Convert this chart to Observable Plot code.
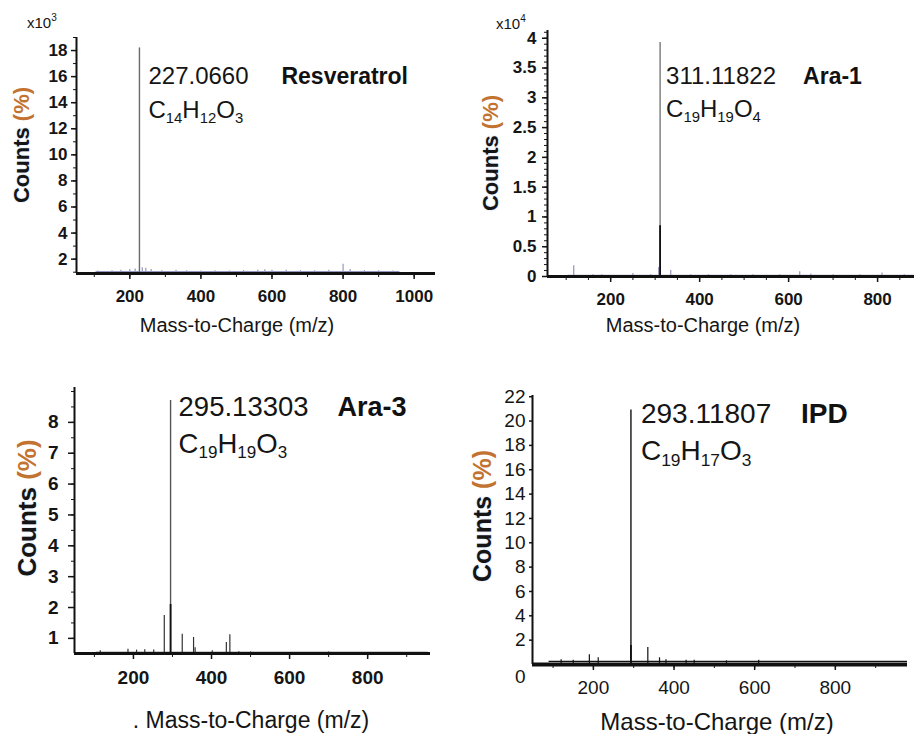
<!DOCTYPE html>
<html><head><meta charset="utf-8">
<script src="https://cdn.jsdelivr.net/npm/d3@7"></script>
<script src="https://cdn.jsdelivr.net/npm/@observablehq/plot@0.6"></script>
<style>
body{margin:0;background:#fff;}
#root{position:relative;width:914px;height:734px;overflow:hidden;font-family:"Liberation Sans",Arimo,Arial,sans-serif;background:#fff;}
#root svg{position:absolute;}
.ylab{position:absolute;transform:translate(-50%,-50%) rotate(-90deg);white-space:nowrap;font-weight:bold;color:#151515;text-shadow:0 0 2px #b9cdf0;}
.ylab span{color:#c27331;text-shadow:none;}
.xlab{position:absolute;transform:translate(-50%,-50%);white-space:nowrap;color:#151515;}
.exp{position:absolute;white-space:nowrap;color:#151515;font-size:15px;}
.exp sup{font-size:10px;vertical-align:7px;}
</style></head>
<body><div id="root"></div>
<script>
const FONT = '"Liberation Sans", Arimo, Arial, sans-serif';

// ---------- data ----------
// Panel 1: Resveratrol (counts x10^3)
const resvPeakMz = 227.0660, resvPeakCounts = 18.2;
const resvMz = [110,150,175,200,215,235,245,260,290,330,360,400,440,480,520,560,580,600,640,680,720,760,800,820,860,900,940];
const resvCounts = [1.1,1.12,1.15,1.2,1.25,1.35,1.3,1.2,1.12,1.15,1.12,1.1,1.12,1.1,1.12,1.15,1.18,1.15,1.15,1.12,1.12,1.15,1.6,1.2,1.12,1.12,1.1];
const resvText = ["227.0660", "C\u2081\u2084H\u2081\u2082O\u2083", "Resveratrol"];
const resvXTicks = [200,400,600,800,1000];
const resvYTicks = [2,4,6,8,10,12,14,16,18];

// Panel 2: Ara-1 (counts x10^4)
const ara1PeakMz = 311.11822, ara1PeakCounts = 3.93, ara1Inner = 0.85;
const ara1Mz = [117,160,180,250,290,308,335,380,420,470,520,580,625,650,700,760,810,860];
const ara1Counts = [0.18,0.03,0.03,0.05,0.03,0.15,0.1,0.03,0.03,0.03,0.03,0.03,0.08,0.04,0.03,0.03,0.06,0.03];
const ara1Text = ["311.11822", "C\u2081\u2089H\u2081\u2089O\u2084", "Ara-1"];
const ara1XTicks = [200,400,600,800];
const ara1YTicks = [0,0.5,1,1.5,2,2.5,3,3.5,4];

// Panel 3: Ara-3
const ara3PeakMz = 295.13303, ara3PeakCounts = 8.71, ara3Inner = 2.1;
const ara3Mz = [115,186,208,229,252,279,325,354,358,402,438,447,470,500,700];
const ara3Counts = [0.6,0.65,0.62,0.63,0.62,1.74,1.13,1.03,0.7,0.6,0.87,1.12,0.57,0.56,0.56];
const ara3Text = ["295.13303", "C\u2081\u2089H\u2081\u2089O\u2083", "Ara-3"];
const ara3XTicks = [200,400,600,800];
const ara3YTicks = [1,2,3,4,5,6,7,8];

// Panel 4: IPD
const ipdPeakMz = 293.11807, ipdPeakCounts = 20.9, ipdInner = 1.56;
const ipdMz = [120,150,190,212,335,364,380,430,450,530,610];
const ipdCounts = [0.4,0.35,0.8,0.55,1.4,0.55,0.4,0.35,0.35,0.3,0.35];
const ipdText = ["293.11807", "C\u2081\u2089H\u2081\u2087O\u2083", "IPD"];
const ipdXTicks = [200,400,600,800];
const ipdYTicks = [2,4,6,8,10,12,14,16,18,20,22];

function range(a, b, s) { const r = []; for (let v = a; v <= b + 1e-9; v += s) r.push(+v.toFixed(3)); return r; }
const fmt = d => String(d);

const panels = [
  {left:0, top:0, w:460, h:345, ml:76, mr:25, mt:37, mb:72,
   xDomain:[50,1060], yDomain:[0.9,19.0], floor:1.05, floorX:[105,960],
   peakMz:resvPeakMz, peakC:resvPeakCounts, inner:null, mz:resvMz, counts:resvCounts,
   text:resvText, textY:[15.4,12.8,15.4], textDx:[9,9,142], numSize:24, nameSize:23,
   xTicks:resvXTicks, xMinor:range(100,1000,100), yTicks:resvYTicks, yMinor:range(1,19,1),
   tickFont:17, xTS:6, xTP:10, yTS:5, yTP:4, noise:"#9498c0", main:"#6a6a6a", axisW:3,
   ylab:{x:22,y:145,size:22}, xlab:{x:237,y:325,size:20,text:"Mass-to-Charge (m/z)"}, exp:{x:27,y:12,t:"3"}},
  {left:460, top:0, w:454, h:345, ml:87, mr:0, mt:30, mb:69,
   xDomain:[58,883], yDomain:[0,4.13], floor:0.02, floorX:[105,883],
   peakMz:ara1PeakMz, peakC:ara1PeakCounts, inner:ara1Inner, mz:ara1Mz, counts:ara1Counts,
   text:ara1Text, textY:[3.24,2.67,3.24], textDx:[6,6,143], numSize:24, nameSize:23,
   xTicks:ara1XTicks, xMinor:range(100,850,50), yTicks:ara1YTicks, yMinor:range(0,4.1,0.1),
   tickFont:17, xTS:6, xTP:10, yTS:5, yTP:6, noise:"#9a90b8", main:"#777", axisW:3,
   ylab:{x:491,y:153,size:22}, xlab:{x:703,y:325,size:20,text:"Mass-to-Charge (m/z)"}, exp:{x:496,y:13,t:"4"}},
  {left:0, top:380, w:460, h:354, ml:74, mr:30, mt:7, mb:81,
   xDomain:[49,961], yDomain:[0.51,9.13], floor:0.55, floorX:[105,955],
   peakMz:ara3PeakMz, peakC:ara3PeakCounts, inner:ara3Inner, mz:ara3Mz, counts:ara3Counts,
   text:ara3Text, textY:[8.22,7.02,8.22], textDx:[8,8,167], numSize:27.5, nameSize:27,
   xTicks:ara3XTicks, xMinor:range(100,900,100), yTicks:ara3YTicks, yMinor:range(1,9,0.5),
   tickFont:19, xTS:6, xTP:11, yTS:6, yTP:10, noise:"#333", main:"#555", axisW:3,
   ylab:{x:27,y:508,size:26}, xlab:{x:251,y:720,size:23,text:". Mass-to-Charge (m/z)"}, exp:null},
  {left:460, top:380, w:454, h:354, ml:72, mr:7, mt:15, mb:70,
   xDomain:[49,979], yDomain:[0,22.1], floor:0.25, floorX:[90,979],
   peakMz:ipdPeakMz, peakC:ipdPeakCounts, inner:ipdInner, mz:ipdMz, counts:ipdCounts,
   text:ipdText, textY:[19.8,16.76,19.8], textDx:[10,10,170], numSize:28, nameSize:28,
   xTicks:ipdXTicks, xMinor:range(100,900,100), yTicks:ipdYTicks, yMinor:[],
   tickFont:19, xTS:6, xTP:10, yTS:3, yTP:4, noise:"#111", main:"#111", axisW:4,
   ylab:{x:482,y:516,size:25}, xlab:{x:717,y:722,size:24,text:"Mass-to-Charge (m/z)"}, exp:null, zeroLabel:true}
];

const root = document.getElementById("root");
const SUB = "\u2080\u2081\u2082\u2083\u2084\u2085\u2086\u2087\u2088\u2089";

// turn unicode subscript digits into real shifted, smaller tspans
function subscriptify(svg) {
  for (const t of svg.querySelectorAll("text")) {
    const s = t.textContent;
    if (![...s].some(c => SUB.includes(c)) || t.children.length) continue;
    const runs = [];
    for (const c of s) {
      const isSub = SUB.includes(c);
      const ch = isSub ? String(SUB.indexOf(c)) : c;
      if (runs.length && runs[runs.length - 1].sub === isSub) runs[runs.length - 1].t += ch;
      else runs.push({sub: isSub, t: ch});
    }
    t.textContent = "";
    let shifted = false;
    for (const r of runs) {
      const ts = document.createElementNS("http://www.w3.org/2000/svg", "tspan");
      ts.textContent = r.t;
      if (r.sub) { ts.setAttribute("font-size", "0.62em"); ts.setAttribute("dy", "0.32em"); shifted = true; }
      else if (shifted) { ts.setAttribute("dy", "-0.2em"); shifted = false; }
      t.appendChild(ts);
    }
  }
}

for (const p of panels) {
  const y0 = p.yDomain[0];
  const peaks = p.mz.map((m, i) => ({mz: m, c: p.counts[i]}));
  const main = [{mz: p.peakMz, c: p.peakC, inner: p.inner}];
  const floor = [{x1: p.floorX[0], x2: p.floorX[1], y: p.floor}];
  const marks = [
    Plot.ruleY(floor, {y: "y", x1: "x1", x2: "x2", stroke: p.noise, strokeWidth: 1.2}),
    Plot.ruleX(peaks, {x: "mz", y1: () => y0, y2: "c", stroke: p.noise, strokeWidth: 1.2}),
    Plot.ruleX(main, {x: "mz", y1: () => y0, y2: "c", stroke: p.main, strokeWidth: 1.4}),
  ];
  if (p.inner != null) marks.push(Plot.ruleX(main, {x: "mz", y1: () => y0, y2: "inner", stroke: "#111", strokeWidth: 1.8}));
  const w = p.zeroLabel ? "normal" : "bold";
  marks.push(
    Plot.axisY({ticks: p.yMinor, tickSize: 3, tickFormat: () => "", label: null, strokeWidth: 1}),
    Plot.axisY({ticks: p.yTicks, tickSize: p.yTS, tickPadding: p.yTP, tickFormat: fmt, label: null, fontSize: p.tickFont, fontWeight: w, strokeWidth: 1.5}),
    Plot.axisX({ticks: p.xMinor, tickSize: 4, tickFormat: () => "", label: null, strokeWidth: 1}),
    Plot.axisX({ticks: p.xTicks, tickSize: p.xTS, tickPadding: p.xTP, tickFormat: fmt, label: null, fontSize: p.tickFont, fontWeight: w, strokeWidth: 1.5}),
    Plot.ruleY([y0], {stroke: "#111", strokeWidth: p.axisW}),
    Plot.ruleX([p.xDomain[0]], {stroke: "#111", strokeWidth: 2})
  );
  if (p.zeroLabel) {
    marks.push(Plot.axisY({ticks: [0], tickSize: 0, tickPadding: p.yTS + p.yTP, tickFormat: fmt, dy: 12, label: null, fontSize: p.tickFont}));
  }
  marks.push(
    Plot.text([0], {x: () => p.peakMz, y: () => p.textY[0], text: () => p.text[0], dx: p.textDx[0], textAnchor: "start", lineAnchor: "bottom", fontSize: p.numSize, fill: "#151515"}),
    Plot.text([0], {x: () => p.peakMz, y: () => p.textY[1], text: () => p.text[1], dx: p.textDx[1], textAnchor: "start", lineAnchor: "bottom", fontSize: p.numSize, fill: "#151515"}),
    Plot.text([0], {x: () => p.peakMz, y: () => p.textY[2], text: () => p.text[2], dx: p.textDx[2], textAnchor: "start", lineAnchor: "bottom", fontSize: p.nameSize, fontWeight: "bold", fill: "#111"})
  );
  const svg = Plot.plot({
    width: p.w, height: p.h,
    marginLeft: p.ml, marginRight: p.mr, marginTop: p.mt, marginBottom: p.mb,
    x: {domain: p.xDomain}, y: {domain: p.yDomain},
    style: {fontFamily: FONT, color: "#151515", background: "transparent", overflow: "visible"},
    marks
  });
  subscriptify(svg);
  svg.style.left = p.left + "px";
  svg.style.top = p.top + "px";
  root.appendChild(svg);

  const yl = document.createElement("div");
  yl.className = "ylab";
  yl.style.left = p.ylab.x + "px"; yl.style.top = p.ylab.y + "px"; yl.style.fontSize = p.ylab.size + "px";
  yl.innerHTML = 'Counts <span>(%)</span>';
  root.appendChild(yl);

  const xl = document.createElement("div");
  xl.className = "xlab";
  xl.style.left = p.xlab.x + "px"; xl.style.top = p.xlab.y + "px"; xl.style.fontSize = p.xlab.size + "px";
  xl.textContent = p.xlab.text;
  root.appendChild(xl);

  if (p.exp) {
    const e = document.createElement("div");
    e.className = "exp";
    e.style.left = p.exp.x + "px"; e.style.top = p.exp.y + "px";
    e.innerHTML = "x10<sup>" + p.exp.t + "</sup>";
    root.appendChild(e);
  }
}
</script></body></html>
